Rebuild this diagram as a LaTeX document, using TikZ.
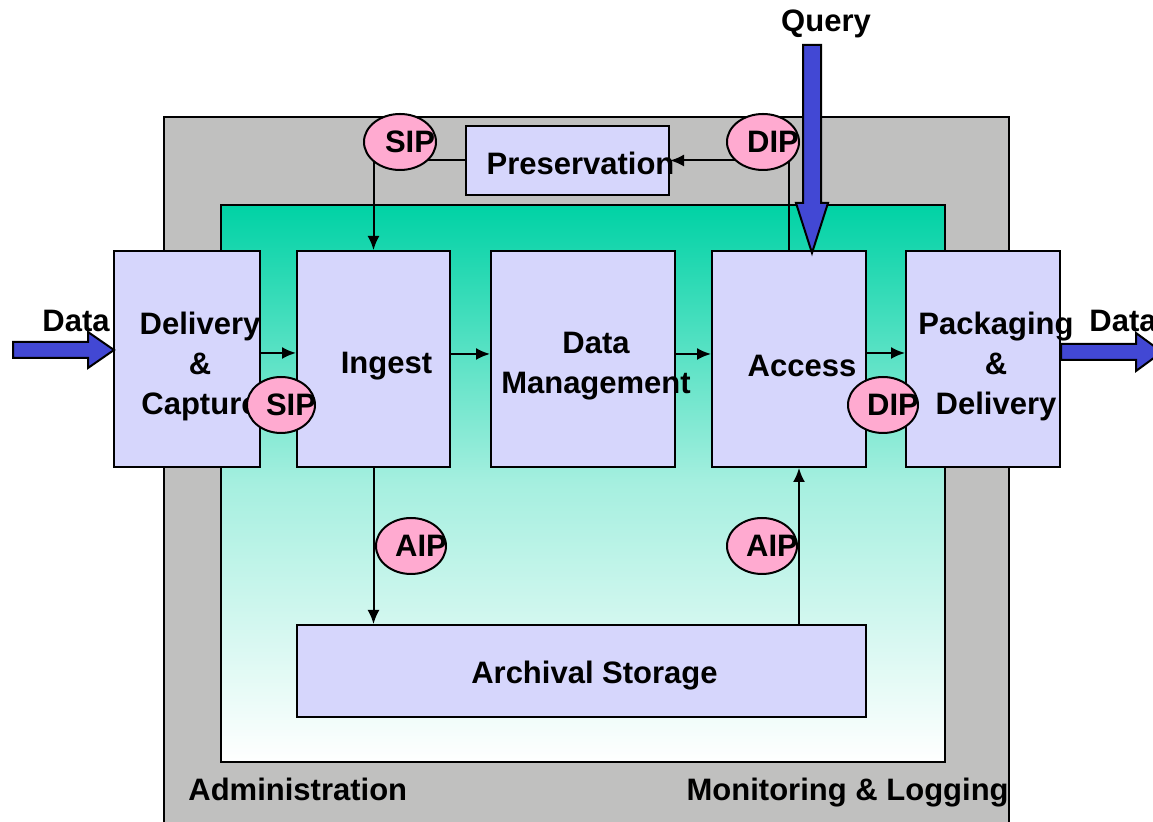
\documentclass[tikz,border=0pt]{standalone}
\usepackage{fontspec}
\setmainfont{Liberation Sans}
\usetikzlibrary{arrows.meta,shapes.geometric}
\definecolor{grayb}{RGB}{192,192,191}
\definecolor{tealtop}{RGB}{0,210,165}
\definecolor{boxfill}{RGB}{214,214,252}
\definecolor{pinkfill}{RGB}{255,170,208}
\definecolor{bigblue}{RGB}{66,72,212}
\begin{document}
\begin{tikzpicture}[x=0.5pt,y=-0.5pt,
  font=\fontsize{15.5}{20}\selectfont\bfseries,
  box/.style={draw=black, line width=1pt, fill=boxfill, inner sep=0pt, minimum height=108pt},
  txt/.style={align=center, xshift=6.5pt, yshift=-1.5pt},
  txtb/.style={align=center, xshift=6.5pt, yshift=-3.5pt},
  pkg/.style={draw=black, line width=1pt, fill=pinkfill, ellipse, inner sep=0pt, minimum width=36pt, minimum height=28pt},
  ptxt/.style={xshift=5pt},
  arr/.style={line width=1pt, -{Latex[length=7pt,width=6pt]}},
  conn/.style={line width=1pt},
  bigarrow/.style={draw=black, line width=1pt, fill=bigblue, line join=miter},
  lbl/.style={inner sep=0pt}]
\useasboundingbox (0,0) rectangle (1153,822);
% backgrounds
\draw[line width=1pt, fill=grayb] (164,835) -- (164,117) -- (1009,117) -- (1009,835);
\draw[line width=1pt, top color=tealtop, bottom color=white, middle color=tealtop!35!white] (221,205) rectangle (945,762);
% boxes
\node[box, minimum width=73pt, label={[txtb]center:Delivery\\\&\\Capture}] (dc) at (187,359) {};
\node[box, minimum width=76.5pt, label={[txtb]center:Ingest}] (ing) at (373.5,359) {};
\node[box, minimum width=92pt, label={[txtb]center:Data\\Management}] (dm) at (583,359) {};
\node[box, minimum width=77pt, label={[txtb]center:Access}] (acc) at (789,359) {};
\node[box, minimum width=77pt, label={[txtb]center:Packaging\\\&\\Delivery}] (pd) at (983,359) {};
\node[box, minimum width=101.5pt, minimum height=34.5pt, label={[txt]center:Preservation}] (pres) at (567.5,160.5) {};
\node[box, minimum width=284.5pt, minimum height=46pt, label={[txtb,yshift=1pt]center:Archival Storage}] (arch) at (581.5,671) {};
% connectors
\draw[arr] ([yshift=3pt]dc.east) -- ([yshift=3pt]ing.west);
\draw[arr] ([yshift=2.5pt]ing.east) -- ([yshift=2.5pt]dm.west);
\draw[arr] ([yshift=2.5pt]dm.east) -- ([yshift=2.5pt]acc.west);
\draw[arr] ([yshift=3pt]acc.east) -- ([yshift=3pt]pd.west);
\coordinate (sipc) at (400,142);
\coordinate (dipc) at (763,142);
\draw[arr] (sipc -| ing.north) -- (ing.north);
\draw[conn] (pres.west) -- (pres.west -| sipc);
\draw[arr] (acc.north) |- (pres.east);
\draw[arr] (ing.south) -- (ing.south |- arch.north);
\draw[arr] ([xshift=5pt]acc.south |- arch.north) -- ([xshift=5pt]acc.south);
% package ellipses
\node[pkg, label={[ptxt]center:SIP}] (sip1) at (sipc) {};
\node[pkg, label={[ptxt]center:DIP}] (dip1) at (dipc) {};
\node[pkg, minimum width=34pt, label={[ptxt]center:SIP}] (sip2) at (281,405) {};
\node[pkg, minimum width=35pt, label={[ptxt]center:DIP}] (dip2) at (883,405) {};
\node[pkg, minimum width=35pt, label={[ptxt]center:AIP}] (aip1) at (411,546) {};
\node[pkg, minimum width=35pt, label={[ptxt]center:AIP}] (aip2) at (762,546) {};
% big arrows
\coordinate (din) at (114,350);
\draw[bigarrow] (din) -- ++(-26,-18) -- ++(0,10) -- ++(-75,0) -- ++(0,16) -- ++(75,0) -- ++(0,10) -- cycle;
\coordinate (dout) at (pd.east |- 0,352);
\draw[bigarrow] (dout) ++(0,-8) -- ++(75,0) -- ++(0,-11) -- ++(26,19) -- ++(-26,19) -- ++(0,-11) -- ++(-75,0) -- cycle;
\coordinate (qtip) at (812,253);
\draw[bigarrow] (qtip) -- ++(-16,-50) -- ++(7,0) -- ++(0,-158) -- ++(18,0) -- ++(0,158) -- ++(7,0) -- cycle;
% labels
\node[lbl] (query) at (826,24) {Query};
\node[lbl] (datain) at (76,321) {Data};
\node[lbl] (dataout) at (1123,321) {Data};
\node[lbl, anchor=base west] (admin) at (188,801) {Administration};
\node[lbl, anchor=base east] (monlog) at (1009,801) {Monitoring \& Logging};
\end{tikzpicture}
\end{document}
